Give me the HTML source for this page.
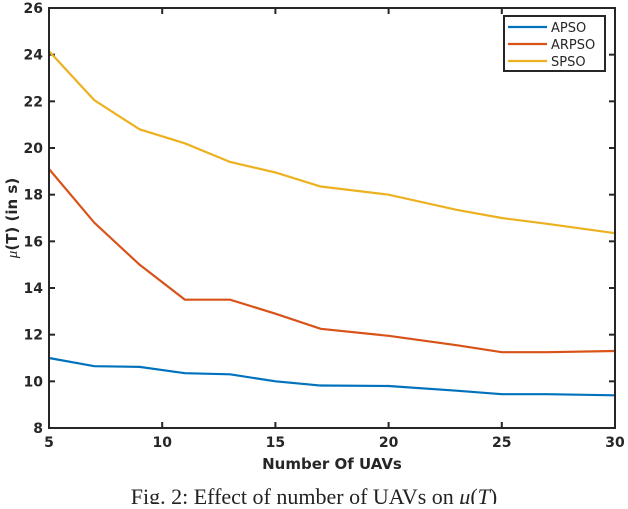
<!DOCTYPE html>
<html><head><meta charset="utf-8"><style>
body{margin:0;background:#fff;width:628px;height:504px;overflow:hidden}
svg text{font-family:"DejaVu Sans","Liberation Sans",sans-serif}
</style></head><body>
<svg width="628" height="504">
<g id="plot"></g>
<text x="0" y="0" transform="translate(17,218) rotate(-90)" text-anchor="middle" font-size="15" font-weight="bold" fill="#262626"><tspan font-style="italic" font-weight="normal" font-family="Liberation Serif">μ</tspan>(T) (in s)</text>
<text x="332" y="469" text-anchor="middle" font-size="15" font-weight="bold" fill="#262626">Number Of UAVs</text>
<text x="314" y="504" text-anchor="middle" font-size="22" style="font-family:'Liberation Serif',serif" fill="#222">Fig. 2: Effect of number of UAVs on <tspan font-style="italic">μ</tspan>(<tspan font-style="italic">T</tspan>)</text>
</svg>
<script>
const xVals=[5,7,9,11,13,15,17,20,23,25,27,30];
const apso=[11.0,10.65,10.62,10.35,10.3,10.0,9.82,9.8,9.6,9.45,9.45,9.4];
const arpso=[19.1,16.8,15.0,13.5,13.5,12.9,12.25,11.95,11.55,11.25,11.25,11.3];
const spso=[24.15,22.05,20.8,20.2,19.4,18.95,18.35,18.0,17.35,17.0,16.75,16.35];
const xTicks=[5,10,15,20,25,30];
const yTicks=[8,10,12,14,16,18,20,22,24,26];
const L=49,R=615,T=8,B=428;
const sx=v=>L+(v-5)/25*(R-L), sy=v=>B-(v-8)/18*(B-T);
const g=document.getElementById('plot'),NS='http://www.w3.org/2000/svg';
function mk(t,a,p){const e=document.createElementNS(NS,t);for(const k in a)e.setAttribute(k,a[k]);(p||g).appendChild(e);return e;}
xTicks.forEach(v=>{const x=sx(v);
mk('line',{x1:x,x2:x,y1:B,y2:B-6,stroke:'#262626','stroke-width':2});
mk('line',{x1:x,x2:x,y1:T,y2:T+6,stroke:'#262626','stroke-width':2});
const t=mk('text',{x:x,y:B+19,'text-anchor':'middle','font-size':14,'font-weight':'bold',fill:'#262626'});t.textContent=v;

});
yTicks.forEach(v=>{const y=sy(v);
mk('line',{x1:L,x2:L+6,y1:y,y2:y,stroke:'#262626','stroke-width':2});
mk('line',{x1:R,x2:R-6,y1:y,y2:y,stroke:'#262626','stroke-width':2});
const t=mk('text',{x:L-6,y:y+5,'text-anchor':'end','font-size':14,'font-weight':'bold',fill:'#262626'});t.textContent=v;

});
const series=[['APSO',apso,'#0072BD'],['ARPSO',arpso,'#D95319'],['SPSO',spso,'#EDB120']];
series.forEach(([n,d,c])=>{
const p=mk('polyline',{points:xVals.map((x,i)=>sx(x)+','+sy(d[i])).join(' '),fill:'none',stroke:c,'stroke-width':2.2});

});
const ax=mk('rect',{x:L,y:T,width:R-L,height:B-T,fill:'none',stroke:'#262626','stroke-width':2});


const lg=mk('g',{});


mk('rect',{x:504,y:16,width:101,height:55,fill:'#fff',stroke:'#262626','stroke-width':2},lg);
series.forEach(([n,d,c],i)=>{const y=27+i*17;
mk('line',{x1:508,x2:547,y1:y,y2:y,stroke:c,'stroke-width':2.2},lg);
const t=mk('text',{x:551,y:y+5,'font-size':13,fill:'#262626'},lg);t.textContent=n;

});
</script>
</body></html>
